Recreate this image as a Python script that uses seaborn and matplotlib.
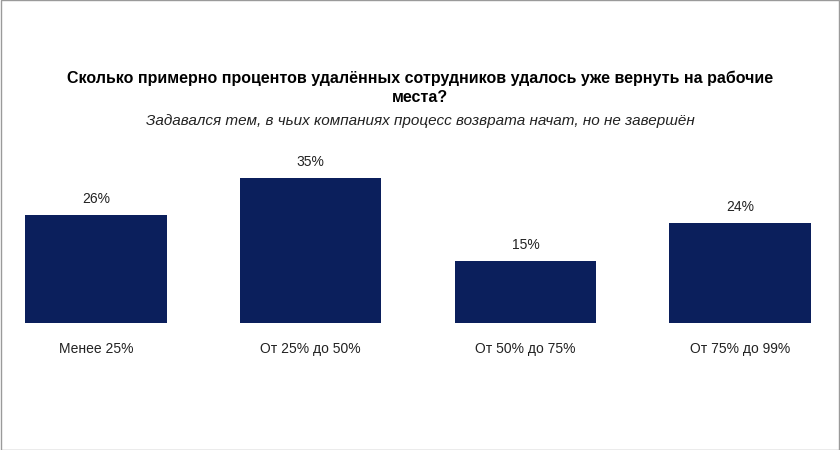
import matplotlib
matplotlib.use('Agg')
import matplotlib.pyplot as plt
import seaborn as sns
import pandas as pd

categories = ['Менее 25%', 'От 25% до 50%', 'От 50% до 75%', 'От 75% до 99%']
values = [26, 35, 15, 24]

plt.rcParams['font.family'] = 'Liberation Sans'
df = pd.DataFrame({'cat': categories, 'val': values})

fig = plt.figure(figsize=(8.4, 4.5), dpi=100)
ax = fig.add_axes([25 / 840, 1 - 323 / 450, 786 / 840, 166 / 450])
sns.barplot(data=df, x='cat', y='val', color='#0b1f5c', saturation=1, width=0.66, ax=ax)
ax.set_xlim(-0.33, 3.33)
ax.set_ylim(0, 40)
for i, v in enumerate(values):
    ax.text(i, v + 2.2, f'{v}%', ha='center', va='bottom', fontsize=10, color='#222222')
for s in ax.spines.values():
    s.set_visible(False)
ax.set_yticks([])
ax.set_xlabel('')
ax.set_ylabel('')
ax.tick_params(axis='x', length=0, pad=14, labelsize=10, colors='#222222')

fig.text(0.5, 1 - 78 / 450, 'Сколько примерно процентов удалённых сотрудников удалось уже вернуть на рабочие',
         ha='center', va='center', fontsize=11.5, fontweight='bold')
fig.text(0.5, 1 - 98 / 450, 'места?', ha='center', va='center', fontsize=11.5, fontweight='bold')
fig.text(0.5, 1 - 121 / 450, 'Задавался тем, в чьих компаниях процесс возврата начат, но не завершён',
         ha='center', va='center', fontsize=11, style='italic', color='#222222')

border = plt.Rectangle((0.001, 0.001), 0.998, 0.998, transform=fig.transFigure,
                       fill=False, edgecolor='#9a9a9a', linewidth=1)
fig.patches.append(border)
fig.savefig('out.png', dpi=100)
